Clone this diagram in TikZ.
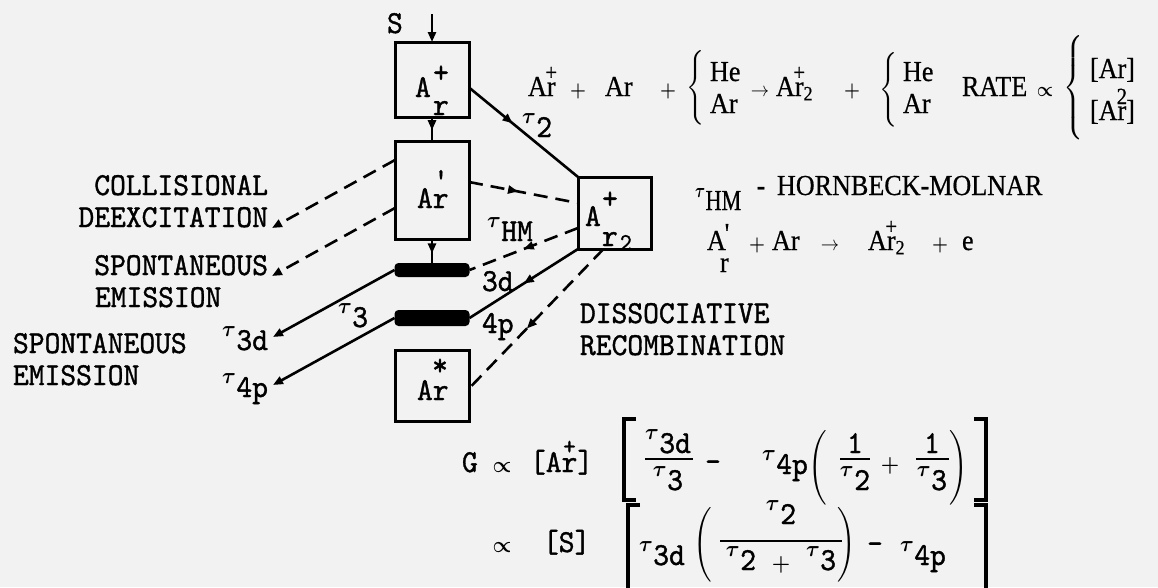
\RequirePackage{fix-cm}
\documentclass[tikz,border=0pt]{standalone}
\usepackage{amsmath}
\usepackage{fontspec}
\setmainfont{Liberation Serif}[FakeBold=0.6]
\setmonofont{lmmono10-regular}[Extension=.otf, FakeBold=1.2]
\usetikzlibrary{arrows.meta,decorations.markings}
\newcommand\lab[1]{\scalebox{0.94}[1]{\fontsize{32}{34}\selectfont\ttfamily #1}}
\newcommand\eqt[1]{\scalebox{0.9}[1]{\fontsize{29}{31}\selectfont\rmfamily #1}}
\newcommand\tsub[1]{\raisebox{0.42em}{$\scriptstyle\boldsymbol{\tau}$}\kern0.5pt #1}
\newcommand\ovr[2]{\ooalign{#1\cr\hidewidth\raisebox{0.55em}{\scalebox{0.8}{#2}}\hidewidth\cr}}
\newcommand\pls{$\scriptstyle\boldsymbol{+}$}
\newcommand\prp{$\scriptstyle\boldsymbol{\propto}$}
\tikzset{
  txt/.style={inner sep=0pt, outer sep=0pt},
  boxn/.style={draw, line width=3pt, inner sep=0pt, outer sep=0pt, minimum width=74pt},
  barn/.style={fill=black, rounded corners=4pt, inner sep=0pt, outer sep=0pt, minimum width=75pt},
  ln/.style={line width=2.6pt},
  dsh/.style={ln, dash pattern=on 14pt off 8pt},
  tipend/.style={-{Triangle[length=10pt,width=8pt]}},
  midarr/.style={postaction={decorate}, decoration={markings, mark=at position #1 with {\arrow{Triangle[length=10pt,width=8pt]}}}},
  brk/.style={line width=4pt},
  fbar/.style={line width=2.4pt}
}
\begin{document}
\begin{tikzpicture}[x=1pt,y=-1pt]
\fill[black!5] (0,0) rectangle (1158,587);
\useasboundingbox (0,0) rectangle (1158,587);
% boxes
\node[boxn, minimum height=75pt] (bAp) at (432,79.5) {};
\node[boxn, minimum height=98pt] (bAq) at (432,190) {};
\node[barn, minimum height=14pt] (b3d) at (432,270) {};
\node[barn, minimum height=16pt] (b4p) at (432,318) {};
\node[boxn, minimum height=71pt] (bAs) at (432,385.5) {};
\node[boxn, minimum width=73pt, minimum height=72pt] (bAr2) at (614.5,213) {};
% box labels
\node[txt, anchor=base west] (tAp) at (415,97) {\lab{A}};
\node[txt, anchor=base west] (tApr) at (433,115) {\lab{r}};
\node[txt] (tApp) at (441,74) {\lab{+}};
\node[txt, anchor=base west] (tAq) at (417,208) {\lab{Ar}};
\node[txt] (tAqp) at (441,180) {\lab{\textquotesingle}};
\node[txt, anchor=base west] (tAs) at (417,400) {\lab{Ar}};
\node[txt] (tAss) at (440,367) {\lab{*}};
\node[txt, anchor=base west] (tB1) at (585,226) {\lab{A}};
\node[txt] (tB2) at (610,200) {\lab{+}};
\node[txt, anchor=base west] (tB3) at (602,246) {\lab{r}};
\node[txt, anchor=base west] (tB4) at (620,250) {\lab{\fontsize{24}{24}\selectfont 2}};
% connectors
\coordinate (sIn) at (432,14);
\draw[ln,tipend] (sIn) -- (bAp.north);
\draw[ln,midarr=0.55] (bAp.south) -- (bAq.north);
\draw[ln,midarr=0.6] (bAq.south) -- (b3d.north);
\draw[ln,midarr=0.4] ([yshift=-8pt]bAp.east) -- (bAr2.north west);
\draw[dsh,midarr=0.45] ([yshift=8pt]bAq.east) -- ([yshift=10pt]bAr2.west);
\draw[dsh,midarr=0.5] ([yshift=-15pt]bAr2.west) -- (b3d.east);
\draw[ln,midarr=0.5] (bAr2.south west) -- (b4p.east);
\draw[dsh,midarr=0.57] ([xshift=-11pt]bAr2.south) -- ([yshift=-3pt]bAs.east);
\coordinate (cD) at (272,228);
\coordinate (cS) at (272,276);
\coordinate (c3d) at (273,337);
\coordinate (c4p) at (273,385);
\draw[dsh,tipend] ([yshift=30pt]bAq.west) -- (cD);
\draw[dsh,tipend] ([yshift=-18pt]bAq.west) -- (cS);
\draw[ln,tipend] (b3d.west) -- (c3d);
\draw[ln,tipend] (b4p.west) -- (c4p);
% diagram labels
\node[txt, anchor=base west] (lS) at (387,33) {\lab{S}};
\node[txt, anchor=base west] (lt2) at (522,137) {\lab{\tsub{2}}};
\node[txt, anchor=base west] (ltHM) at (487,241) {\lab{\tsub{HM}}};
\node[txt, anchor=base west] (l3d) at (482,291) {\lab{3d}};
\node[txt, anchor=base west] (l4p) at (482,333) {\lab{4p}};
\node[txt, anchor=base west] (lt3) at (338,327) {\lab{\tsub{3}}};
\node[txt, anchor=base east] (lColl) at (268,195) {\lab{COLLISIONAL}};
\node[txt, anchor=base east] (lDeex) at (268,227) {\lab{DEEXCITATION}};
\node[txt, anchor=base east] (lSp1) at (268,275) {\lab{SPONTANEOUS}};
\node[txt, anchor=base west] (lEm1) at (95,307) {\lab{EMISSION}};
\node[txt, anchor=base west] (lSp2) at (13,353) {\lab{SPONTANEOUS}};
\node[txt, anchor=base west] (lEm2) at (13,385) {\lab{EMISSION}};
\node[txt, anchor=base east] (lt3d) at (268,350) {\lab{\tsub{3d}}};
\node[txt, anchor=base east] (lt4p) at (268,397) {\lab{\tsub{4p}}};
\node[txt, anchor=base west] (lDis) at (580,323) {\lab{DISSOCIATIVE}};
\node[txt, anchor=base west] (lRec) at (580,355) {\lab{RECOMBINATION}};
% top equation
\node[txt, anchor=base west] (e1) at (528,96) {\eqt{A\ovr{r}{+}}};
\node[txt, anchor=base] (e2) at (578,96) {\eqt{\pls}};
\node[txt, anchor=base west] (e3) at (605,96) {\eqt{Ar}};
\node[txt, anchor=base] (e4) at (668,96) {\eqt{\pls}};
\node[txt, anchor=east] (e5) at (706,88) {\eqt{$\left\{\rule[-27pt]{0pt}{54pt}\right.$}};
\node[txt, anchor=base west] (e6) at (710,81) {\eqt{He}};
\node[txt, anchor=base west] (e7) at (710,113) {\eqt{Ar}};
\node[txt, anchor=base] (e8) at (760,96) {\eqt{$\scriptstyle\rightarrow$}};
\node[txt, anchor=base west] (e9) at (776,96) {\eqt{A\ovr{r}{+}$_{\text{2}}$}};
\node[txt, anchor=base] (e10) at (852,96) {\eqt{\pls}};
\node[txt, anchor=east] (e11) at (899,90) {\eqt{$\left\{\rule[-27pt]{0pt}{54pt}\right.$}};
\node[txt, anchor=base west] (e12) at (903,81) {\eqt{He}};
\node[txt, anchor=base west] (e13) at (903,113) {\eqt{Ar}};
\node[txt, anchor=base west] (e14) at (962,96) {\eqt{RATE}};
\node[txt, anchor=base] (e15) at (1045,96) {\eqt{\prp}};
\node[txt, anchor=east] (e16) at (1084,88) {\eqt{$\left\{\rule[-45pt]{0pt}{90pt}\right.$}};
\node[txt, anchor=base west] (e17) at (1090,78) {\eqt{[Ar]}};
\node[txt, anchor=base west] (e18) at (1090,120) {\eqt{[A\ovr{r}{2}]}};
% HM line
\node[txt, anchor=base west] (h1) at (695,210) {\scalebox{0.85}[1]{\eqt{\tsub{HM}}}};
\node[txt, anchor=base] (h2) at (761,195) {\eqt{-}};
\node[txt, anchor=base west] (h3) at (777,195) {\eqt{HORNBECK-MOLNAR}};
% A'r line
\node[txt, anchor=base west] (a1) at (707,250) {\eqt{A}};
\node[txt, anchor=south] (a2) at (727,243) {\eqt{\textquotesingle}};
\node[txt, anchor=base west] (a3) at (720,272) {\eqt{r}};
\node[txt, anchor=base] (a4) at (757,250) {\eqt{\pls}};
\node[txt, anchor=base west] (a5) at (772,250) {\eqt{Ar}};
\node[txt, anchor=base] (a6) at (830,250) {\eqt{$\scriptstyle\rightarrow$}};
\node[txt, anchor=base west] (a7) at (868,250) {\eqt{A\ovr{r}{+}$_{\text{2}}$}};
\node[txt, anchor=base] (a8) at (940,250) {\eqt{\pls}};
\node[txt, anchor=base west] (a9) at (962,250) {\eqt{e}};
% bottom formula line 1
\node[txt, anchor=base west] (G) at (462,472) {\lab{G}};
\node[txt, anchor=base] (p1) at (502,472) {\lab{\prp}};
\node[txt, anchor=base west] (ArB) at (530,472) {\lab{[A\ovr{r}{+}]}};
\draw[brk] (636,419) -- (624,419) -- (624,500) -- (636,500);
\node[txt, anchor=base] (n1) at (668,453) {\lab{\tsub{3d}}};
\draw[fbar] (645,459) -- (693,459);
\node[txt, anchor=base] (d1) at (668,490) {\lab{\tsub{3}}};
\node[txt] (m1) at (713,466) {\lab{-}};
\node[txt, anchor=base west] (t4p) at (762,474) {\lab{\tsub{4p}}};
\node[txt] (lp1) at (818,468) {\lab{$\left(\rule[-25pt]{0pt}{50pt}\right.$}};
\node[txt, anchor=base] (n2) at (855,453) {\lab{1}};
\draw[fbar] (840,459) -- (870,459);
\node[txt, anchor=base] (d2) at (855,490) {\lab{\tsub{2}}};
\node[txt] (pl1) at (890,466) {\lab{\pls}};
\node[txt, anchor=base] (n3) at (932,453) {\lab{1}};
\draw[fbar] (916,459) -- (949,459);
\node[txt, anchor=base] (d3) at (932,490) {\lab{\tsub{3}}};
\node[txt] (rp1) at (958,468) {\lab{$\left.\rule[-25pt]{0pt}{50pt}\right)$}};
\draw[brk] (974,419) -- (986,419) -- (986,500) -- (974,500);
% bottom formula line 2
\node[txt, anchor=base] (p2) at (502,552) {\lab{\prp}};
\node[txt, anchor=base west] (Sb) at (543,552) {\lab{[S]}};
\draw[brk] (640,505) -- (628,505) -- (628,600);
\node[txt, anchor=base west] (t3d2) at (639,565) {\lab{\tsub{3d}}};
\node[txt] (lp2) at (703,545) {\lab{$\left(\rule[-27pt]{0pt}{54pt}\right.$}};
\node[txt, anchor=base] (n4) at (781,524) {\lab{\tsub{2}}};
\draw[fbar] (720,541) -- (842,541);
\node[txt, anchor=base] (d4) at (781,570) {\lab{\tsub{2} \pls\ \tsub{3}}};
\node[txt] (rp2) at (846,545) {\lab{$\left.\rule[-27pt]{0pt}{54pt}\right)$}};
\node[txt] (m2) at (875,548) {\lab{-}};
\node[txt, anchor=base west] (t4p2) at (900,565) {\lab{\tsub{4p}}};
\draw[brk] (974,505) -- (986,505) -- (986,600);
\end{tikzpicture}
\end{document}
